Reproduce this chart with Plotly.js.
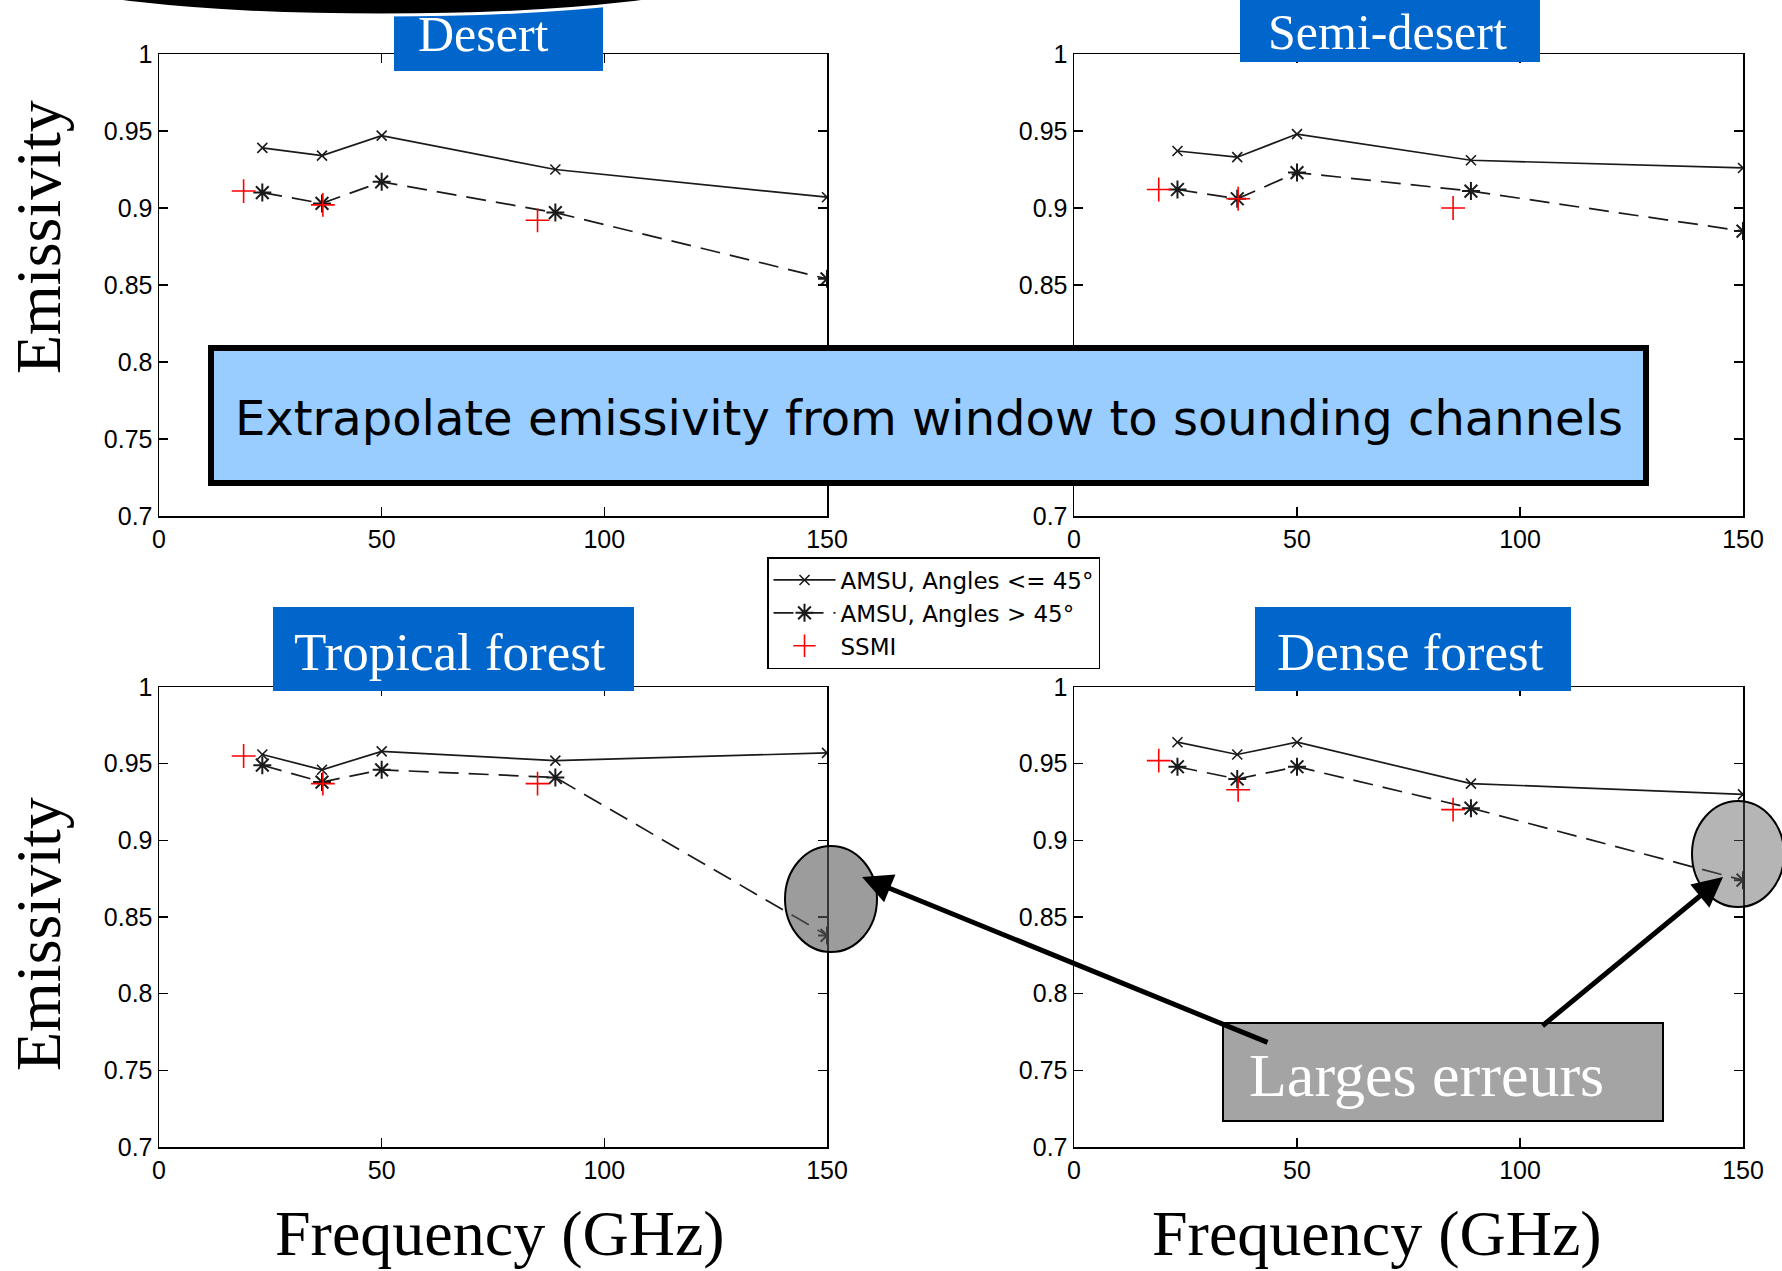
<!DOCTYPE html>
<html>
<head>
<meta charset="utf-8">
<script src="https://cdn.plot.ly/plotly-3.0.1.min.js"></script>
<style>html,body{margin:0;padding:0;background:#fff;}#chart{width:1782px;height:1271px;}</style>
</head>
<body>
<div id="chart"></div>
<script>
// ---------- data ----------
const amsuFreq = [23.2, 36.6, 50.0, 89.0, 150.0];
const ssmiFreq = [19.0, 36.8, 85.0];

const panelNames = ["Desert", "Semi-desert", "Tropical forest", "Dense forest"];

const desertLow  = [0.939, 0.934, 0.947, 0.925, 0.907];
const desertHigh = [0.910, 0.903, 0.917, 0.897, 0.854];
const desertSsmi = [0.911, 0.902, 0.892];

const semiLow  = [0.937, 0.933, 0.948, 0.931, 0.926];
const semiHigh = [0.912, 0.906, 0.923, 0.911, 0.885];
const semiSsmi = [0.912, 0.906, 0.900];

const tropLow  = [0.956, 0.946, 0.958, 0.952, 0.957];
const tropHigh = [0.949, 0.938, 0.946, 0.941, 0.838];
const tropSsmi = [0.955, 0.937, 0.937];

const denseLow  = [0.964, 0.956, 0.964, 0.937, 0.930];
const denseHigh = [0.948, 0.940, 0.948, 0.921, 0.874];
const denseSsmi = [0.952, 0.933, 0.920];

const seriesNames = ["AMSU, Angles <= 45°", "AMSU, Angles > 45°", "SSMI"];

const xTickVals = [0, 50, 100, 150];
const xTickText = ["0", "50", "100", "150"];
const yTickVals = [0.7, 0.75, 0.8, 0.85, 0.9, 0.95, 1];
const yTickText = ["0.7", "0.75", "0.8", "0.85", "0.9", "0.95", "1"];
// labels of the upper-right panel that sit hidden behind the blue banner
const yTickTextHidden = ["0.7", "", "", "0.85", "0.9", "0.95", "1"];

const yTitle = "Emissivity";
const xTitle = "Frequency (GHz)";
const bannerText = "Extrapolate emissivity from window to sounding channels";
const errorText = "Larges erreurs";

// ---------- layout helpers ----------
const W = 1782, H = 1271;
const px = v => v / W;
const py = v => 1 - v / H;

const lowSets  = [desertLow, semiLow, tropLow, denseLow];
const highSets = [desertHigh, semiHigh, tropHigh, denseHigh];
const ssmiSets = [desertSsmi, semiSsmi, tropSsmi, denseSsmi];
const yLabelSets = [yTickText, yTickTextHidden, yTickText, yTickText];

const boxes = [
  {x: [159, 827],  y: [54, 516]},
  {x: [1074, 1743], y: [54, 516]},
  {x: [159, 827],  y: [687, 1147]},
  {x: [1074, 1743], y: [687, 1147]}
];

const lineCol = '#1a1a1a';
const data = [];
const layout = {
  width: W, height: H,
  margin: {l: 0, r: 0, t: 0, b: 0},
  paper_bgcolor: '#ffffff',
  plot_bgcolor: '#ffffff',
  showlegend: true,
  legend: {
    x: px(767), y: py(557), xanchor: 'left', yanchor: 'top',
    bgcolor: '#ffffff', bordercolor: '#000000', borderwidth: 1.5,
    font: {family: 'DejaVu Sans, sans-serif', size: 23, color: '#000'},
    tracegroupgap: 0, itemwidth: 62
  },
  shapes: [],
  annotations: []
};

const tickFont = {family: 'Liberation Sans, Arial, sans-serif', size: 25, color: '#000'};

boxes.forEach((b, i) => {
  const s = i === 0 ? '' : String(i + 1);
  const xa = 'xaxis' + s, ya = 'yaxis' + s;
  layout[xa] = {
    domain: [px(b.x[0]), px(b.x[1])], range: [0, 150], anchor: 'y' + s,
    showgrid: false, zeroline: false, showline: true, linecolor: '#000', linewidth: 1.5,
    mirror: 'ticks', ticks: 'inside', ticklen: 9, tickwidth: 1.5, tickcolor: '#000',
    tickmode: 'array', tickvals: xTickVals, ticktext: xTickText, tickfont: tickFont,
    fixedrange: true
  };
  layout[ya] = {
    domain: [py(b.y[1]), py(b.y[0])], range: [0.7, 1], anchor: 'x' + s,
    showgrid: false, zeroline: false, showline: true, linecolor: '#000', linewidth: 1.5,
    mirror: 'ticks', ticks: 'inside', ticklen: 9, tickwidth: 1.5, tickcolor: '#000',
    tickmode: 'array', tickvals: yTickVals, ticktext: yLabelSets[i], tickfont: tickFont,
    fixedrange: true
  };
  data.push({
    x: amsuFreq, y: lowSets[i], xaxis: 'x' + s, yaxis: 'y' + s,
    name: seriesNames[0], legendgroup: 'a', showlegend: i === 0,
    mode: 'lines+markers', line: {color: lineCol, width: 1.7},
    marker: {symbol: 'x-thin-open', size: 10, color: lineCol, line: {color: lineCol, width: 1.6}}
  });
  data.push({
    x: amsuFreq, y: highSets[i], xaxis: 'x' + s, yaxis: 'y' + s,
    name: seriesNames[1], legendgroup: 'b', showlegend: i === 0,
    mode: 'lines+markers', line: {color: lineCol, width: 1.7, dash: '20px,10px'},
    marker: {symbol: 'asterisk-open', size: 15, color: lineCol, line: {color: lineCol, width: 2}}
  });
  data.push({
    x: ssmiFreq, y: ssmiSets[i], xaxis: 'x' + s, yaxis: 'y' + s,
    name: seriesNames[2], legendgroup: 'c', showlegend: i === 0,
    mode: 'markers',
    marker: {symbol: 'cross-thin-open', size: 17, color: '#ff0000', line: {color: '#ff0000', width: 1.6}}
  });
});

// ---------- decorative shapes ----------
function rect(x0, y0, x1, y1, fill, lc, lw) {
  return {type: 'rect', xref: 'paper', yref: 'paper', layer: 'above',
    x0: px(x0), x1: px(x1), y0: py(y1), y1: py(y0),
    fillcolor: fill, line: {color: lc, width: lw}};
}
function ell(x0, y0, x1, y1, fill, lc, lw) {
  return {type: 'circle', xref: 'paper', yref: 'paper', layer: 'above',
    x0: px(x0), x1: px(x1), y0: py(y1), y1: py(y0),
    fillcolor: fill, line: {color: lc, width: lw}};
}
const blue = '#0066cc';
layout.shapes.push(rect(394, 0, 603, 71, blue, blue, 0));
layout.shapes.push(ell(36, -65, 728, 15, '#000000', '#ffffff', 3));
layout.shapes.push(rect(1240, -2, 1540, 62, blue, blue, 0));
layout.shapes.push(rect(273, 607, 634, 691, blue, blue, 0));
layout.shapes.push(rect(1255, 607, 1571, 691, blue, blue, 0));
layout.shapes.push(rect(211, 348, 1646, 483, '#99ccff', '#000000', 6));
layout.shapes.push(rect(1223, 1023, 1663, 1121, '#a4a4a4', '#000000', 2));
layout.shapes.push(ell(785, 846, 877, 952, 'rgba(90,90,90,0.6)', '#000000', 2));
layout.shapes.push(ell(1692, 801, 1784, 907, 'rgba(90,90,90,0.45)', '#000000', 2));

// ---------- text annotations ----------
const serif = 'Liberation Serif, Times New Roman, serif';
function txt(t, x, y, size, color, family, extra) {
  return Object.assign({text: t, xref: 'paper', yref: 'paper', x: px(x), y: py(y),
    xanchor: 'center', yanchor: 'middle', showarrow: false,
    font: {family: family, size: size, color: color}}, extra || {});
}
layout.annotations.push(txt(panelNames[0], 483, 34, 50, '#fff', serif));
layout.annotations.push(txt(panelNames[1], 1387, 32, 50, '#fff', serif));
layout.annotations.push(txt(panelNames[2], 450, 652, 53, '#fff', serif));
layout.annotations.push(txt(panelNames[3], 1410, 652, 53, '#fff', serif));
layout.annotations.push(txt(bannerText, 929, 418, 48, '#000', 'DejaVu Sans, sans-serif'));
layout.annotations.push(txt(errorText, 1426, 1075, 62, '#fff', serif));
layout.annotations.push(txt(xTitle, 500, 1233, 64, '#000', serif));
layout.annotations.push(txt(xTitle, 1377, 1233, 64, '#000', serif));
layout.annotations.push(txt(yTitle, 38, 237, 64, '#000', serif, {textangle: -90}));
layout.annotations.push(txt(yTitle, 38, 934, 64, '#000', serif, {textangle: -90}));

// arrows
function arrow(hx, hy, tx, ty) {
  return {text: '', xref: 'paper', yref: 'paper', x: px(hx), y: py(hy),
    axref: 'pixel', ayref: 'pixel', ax: tx - hx, ay: ty - hy,
    showarrow: true, arrowhead: 2, arrowsize: 1.2, arrowwidth: 5,
    arrowcolor: '#000', standoff: 0, startstandoff: 0};
}
layout.annotations.push(arrow(862, 877, 1269, 1043));
layout.annotations.push(arrow(1723, 877, 1541, 1027));

Plotly.newPlot('chart', data, layout, {displayModeBar: false, staticPlot: true});
</script>
</body>
</html>
